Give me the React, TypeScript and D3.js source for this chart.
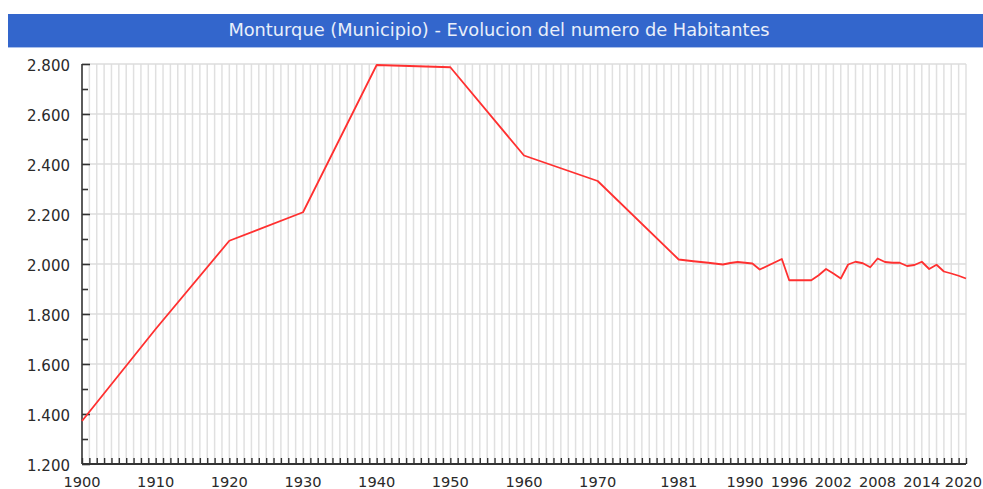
import React, { useEffect, useRef } from "react";
import * as d3 from "d3";

// population
const years = [
  1900, 1910, 1920, 1930, 1940, 1950, 1960, 1970, 1981, 1983, 1985, 1987, 1988, 1989,
  1990, 1991, 1992, 1995, 1996, 1998, 1999, 2000, 2001, 2002, 2003, 2004, 2005, 2006,
  2007, 2008, 2009, 2010, 2011, 2012, 2013, 2014, 2015, 2016, 2017, 2018, 2019, 2020,
];
const habitantes = [
  1372, 1740, 2093, 2207, 2796, 2787, 2434, 2332, 2018, 2011, 2005, 1998, 2004, 2008,
  2005, 2002, 1978, 2020, 1935, 1935, 1935, 1955, 1980, 1962, 1942, 1998, 2009, 2003,
  1987, 2022, 2008, 2005, 2005, 1992, 1996, 2009, 1980, 1997, 1970, 1962, 1953, 1942,
];
const xLabels = [1900, 1910, 1920, 1930, 1940, 1950, 1960, 1970, 1981, 1990, 1996, 2002, 2008, 2014, 2020];
const yTicks = [1200, 1400, 1600, 1800, 2000, 2200, 2400, 2600, 2800];
const title = "Monturque (Municipio) - Evolucion del numero de Habitantes";

const W = 983;
const H = 489;
const margin = { left: 82, right: 17, top: 64, bottom: 25 };
const font = "DejaVu Sans, Verdana, sans-serif";

export default function App() {
  const ref = useRef<SVGSVGElement>(null);

  useEffect(() => {
    const svg = d3.select(ref.current);
    svg.selectAll("*").remove();

    const data = years.map((y, i) => ({ year: y, value: habitantes[i] }));

    const x = d3.scaleLinear().domain([1900, 2020]).range([margin.left, W - margin.right]);
    const y = d3.scaleLinear().domain([1200, 2800]).range([H - margin.bottom, margin.top]);

    // title bar
    svg.append("rect").attr("x", 8).attr("y", 14).attr("width", W - 8).attr("height", 33).attr("fill", "#3366cc");
    svg.append("rect").attr("x", 8).attr("y", 47).attr("width", W - 8).attr("height", 1).attr("fill", "#a9bfea");
    svg.append("text")
      .attr("x", 499)
      .attr("y", 36)
      .attr("text-anchor", "middle")
      .attr("font-family", font)
      .attr("font-size", 17.8)
      .attr("fill", "#e9effa")
      .text(title);

    // grid
    const g = svg.append("g");
    g.selectAll(".vgrid").data(d3.range(1901, 2021)).join("line")
      .attr("x1", d => x(d)).attr("x2", d => x(d))
      .attr("y1", y(2800)).attr("y2", y(1200))
      .attr("stroke", "#e0e0e0").attr("stroke-width", 1.5);
    g.selectAll(".hgrid").data(yTicks.slice(1)).join("line")
      .attr("x1", x(1900)).attr("x2", x(2020))
      .attr("y1", d => y(d)).attr("y2", d => y(d))
      .attr("stroke", "#dcdcdc").attr("stroke-width", 1.6);

    // y axis (ticks pointing inwards)
    const yAxis = d3.axisRight(y).tickValues(yTicks).tickSize(8).tickFormat(() => "");
    const yMinor = d3.axisRight(y).tickValues(d3.range(1300, 2800, 200)).tickSize(6).tickFormat(() => "");
    svg.append("g").attr("transform", `translate(${x(1900)},0)`).call(yAxis)
      .call(s => s.selectAll("line,path").attr("stroke", "#333").attr("stroke-width", 1.6))
      .call(s => s.select(".domain").attr("d", `M0,${y(2800)}V${y(1200)}`));
    svg.append("g").attr("transform", `translate(${x(1900)},0)`).call(yMinor)
      .call(s => s.select(".domain").remove())
      .call(s => s.selectAll("line").attr("stroke", "#333").attr("stroke-width", 1.6));
    svg.append("g").selectAll("text").data(yTicks).join("text")
      .attr("x", 70).attr("y", d => y(d) + 6.5)
      .attr("text-anchor", "end")
      .attr("font-family", font)
      .attr("font-size", 15)
      .attr("fill", "#2a2a2a")
      .text(d => d3.format(",")(d).replace(",", "."));

    // x axis (ticks pointing upwards)
    const xAxis = d3.axisTop(x).tickValues(d3.range(1900, 2021)).tickSize(6).tickFormat(() => "");
    svg.append("g").attr("transform", `translate(0,${y(1200)})`).call(xAxis)
      .call(s => s.selectAll("line,path").attr("stroke", "#333").attr("stroke-width", 1.4))
      .call(s => s.select(".domain").attr("d", `M${x(1900)},0H${x(2020)}`).attr("stroke-width", 2));
    // last label is kept inside the page edge
    svg.append("g").selectAll("text").data(xLabels).join("text")
      .attr("x", d => (d === 2020 ? W - 1 : x(d))).attr("y", 487)
      .attr("text-anchor", d => (d === 2020 ? "end" : "middle"))
      .attr("font-family", font)
      .attr("font-size", 14.6)
      .attr("fill", "#2a2a2a")
      .text(d => d);

    // population line
    const line = d3.line<{ year: number; value: number }>().x(d => x(d.year)).y(d => y(d.value));
    svg.append("path").datum(data)
      .attr("d", line)
      .attr("fill", "none")
      .attr("stroke", "#ff3030")
      .attr("stroke-width", 1.8)
      .attr("stroke-linejoin", "round");
  }, []);

  return (
    <svg ref={ref} width={W} height={H} style={{ position: "absolute", left: 0, top: 0, background: "#fff" }} />
  );
}
